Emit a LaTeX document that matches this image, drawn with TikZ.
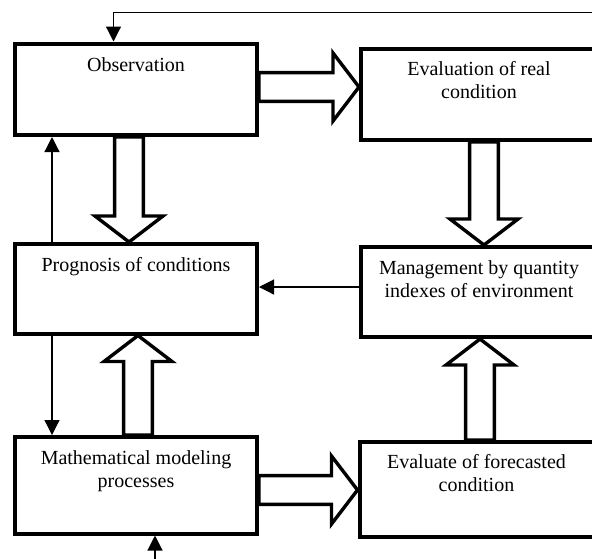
\documentclass[tikz,border=0pt]{standalone}
\usepackage{fontspec}
\setmainfont{Liberation Serif}
\usetikzlibrary{arrows.meta,calc}
\begin{document}
\begin{tikzpicture}[x=0.5pt,y=-0.5pt,
  box/.style={draw, line width=2pt, rectangle, inner sep=0pt},
  lbl/.style={font=\fontsize{10}{11.75}\selectfont, align=center, inner sep=0pt, anchor=base},
  arr/.style={line width=0.6pt, -{Triangle[length=7.5pt,width=7.5pt]}},
  blockarrow/.style={draw, line width=1.7pt, line join=miter, to path={
    ($(\tikztostart)!7.2pt!90:(\tikztotarget)$) --
    ($(\tikztotarget)!13pt!(\tikztostart)!7.2pt!-90:(\tikztostart)$) --
    ($(\tikztotarget)!13pt!(\tikztostart)!17pt!-90:(\tikztostart)$) --
    (\tikztotarget) --
    ($(\tikztotarget)!13pt!(\tikztostart)!17pt!90:(\tikztostart)$) --
    ($(\tikztotarget)!13pt!(\tikztostart)!7.2pt!90:(\tikztostart)$) --
    ($(\tikztostart)!7.2pt!-90:(\tikztotarget)$) -- cycle}}]
\useasboundingbox (0,0) rectangle (592,558);
\clip (0,0) rectangle (592,558);

% boxes
\node[box, minimum width=121pt, minimum height=45.75pt] (obs) at (136,89.25) {};
\node[box, minimum width=121pt, minimum height=44.75pt] (prog) at (136,288.75) {};
\node[box, minimum width=121pt, minimum height=48.25pt] (math) at (136,485.25) {};
\node[box, minimum width=129.5pt, minimum height=45.5pt] (eval) at (490.5,94.5) {};
\node[box, minimum width=129.5pt, minimum height=45pt] (mgmt) at (490.5,292) {};
\node[box, minimum width=130.25pt, minimum height=47.5pt] (evalf) at (489.75,489.5) {};

% labels (base anchor = baseline of the last line)
\node[lbl] (obsT) at ($(obs.north)+(0,30)$) {Observation};
\node[lbl] (progT) at ($(prog.north)+(0,29)$) {Prognosis of conditions};
\node[lbl] (mathT) at ($(math.north)+(0,52.5)$) {Mathematical modeling\\processes};
\node[lbl] (evalT) at ($(eval.north west)+(120,51.5)$) {Evaluation of real\\condition};
\node[lbl] (mgmtT) at ($(mgmt.north west)+(120,52.5)$) {Management by quantity\\indexes of environment};
\node[lbl] (evalfT) at ($(evalf.north west)+(119,51.5)$) {Evaluate of forecasted\\condition};

% block arrows
\coordinate (b1s) at (obs.east |- 0,87);   \coordinate (b1t) at (eval.west |- 0,87);
\coordinate (b2s) at (obs.south -| 129,0); \coordinate (b2t) at (prog.north -| 129,0);
\coordinate (b3s) at (eval.south -| 484,0);\coordinate (b3t) at (mgmt.north -| 484,0);
\coordinate (b4s) at (math.north -| 138,0);\coordinate (b4t) at (prog.south -| 138,0);
\coordinate (b5s) at (evalf.north -| 480,0);\coordinate (b5t) at (mgmt.south -| 480,0);
\coordinate (b6s) at (math.east |- 0,490); \coordinate (b6t) at (evalf.west |- 0,490);
\draw[blockarrow] (b1s) to (b1t);
\draw[blockarrow] (b2s) to (b2t);
\draw[blockarrow] (b3s) to (b3t);
\draw[blockarrow] (b4s) to (b4t);
\draw[blockarrow] (b5s) to (b5t);
\draw[blockarrow] (b6s) to (b6t);

% thin arrows
\draw[arr] (prog.north -| 52,0) -- (obs.south -| 52,0);
\draw[arr] (prog.south -| 52,0) -- (math.north -| 52,0);
\draw[arr] (mgmt.west |- 0,287) -- (prog.east |- 0,287);
\coordinate (fbR) at (600,12.5);
\draw[arr] (fbR) -| (obs.north -| 113.5,0);
\coordinate (btm) at (155,565);
\draw[arr] (btm) -- (math.south -| btm);
\end{tikzpicture}
\end{document}
